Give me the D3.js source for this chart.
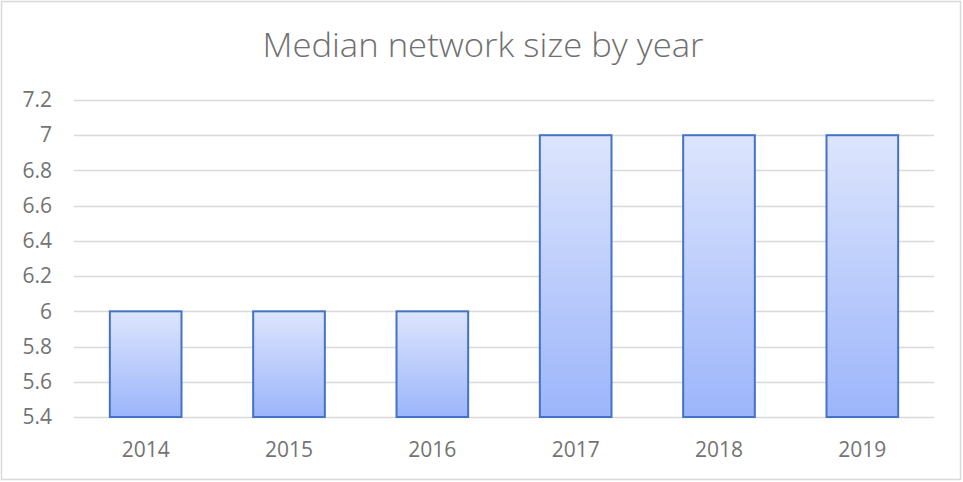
<!DOCTYPE html>
<html>
<head>
<meta charset="utf-8">
<script src="https://cdn.jsdelivr.net/npm/d3@7"></script>
<style>
  body { margin: 0; background: #fff; }
  text { font-family: "Open Sans", "Noto Sans", sans-serif; fill: #595959; }
</style>
</head>
<body>
<svg id="chart"></svg>
<script>
// Chart data
const years = ["2014", "2015", "2016", "2017", "2018", "2019"];
const medianSize = [6, 6, 6, 7, 7, 7];
const yTicks = [5.4, 5.6, 5.8, 6, 6.2, 6.4, 6.6, 6.8, 7, 7.2];

const width = 963, height = 482;
const margin = {top: 100, bottom: 65, left: 74, right: 29};

const svg = d3.select("#chart")
  .attr("width", width)
  .attr("height", height);

// gradient for bars
const defs = svg.append("defs");
const grad = defs.append("linearGradient")
  .attr("id", "barGrad")
  .attr("x1", 0).attr("y1", 0).attr("x2", 0).attr("y2", 1);
grad.append("stop").attr("offset", "0%").attr("stop-color", "#dde5fd");
grad.append("stop").attr("offset", "100%").attr("stop-color", "#9cb5fb");

// outer frame
svg.append("rect")
  .attr("x", 1.5).attr("y", 1.5)
  .attr("width", width - 4).attr("height", height - 4)
  .attr("fill", "#fff")
  .attr("stroke", "#d9d9d9")
  .attr("stroke-width", 1.5);

// title
svg.append("text")
  .attr("x", 483)
  .attr("y", 57)
  .attr("text-anchor", "middle")
  .attr("font-size", 33)
  .attr("font-weight", 300)
  .style("fill", "#6f6f6f")
  .attr("textLength", 441)
  .attr("lengthAdjust", "spacingAndGlyphs")
  .text("Median network size by year");

const xScale = d3.scaleBand()
  .domain(years)
  .range([margin.left, width - margin.right])
  .paddingInner(0.5)
  .paddingOuter(0.25);

const yScale = d3.scaleLinear()
  .domain([5.4, 7.2])
  .range([417, 100]);

// gridlines
svg.append("g")
  .selectAll("line")
  .data(yTicks)
  .enter()
  .append("line")
  .attr("x1", margin.left)
  .attr("x2", width - margin.right)
  .attr("y1", (d) => Math.round(yScale(d)) + 0.5)
  .attr("y2", (d) => Math.round(yScale(d)) + 0.5)
  .attr("stroke", "#d9d9d9")
  .attr("stroke-width", 1.5);

// y axis labels
const yAxis = svg.append("g")
  .attr("transform", `translate(${margin.left - 22}, 0)`)
  .call(d3.axisLeft(yScale).tickValues(yTicks).tickSize(0).tickPadding(0).tickFormat((d) => d3.format("")(+d.toFixed(1))));
yAxis.select(".domain").remove();
yAxis.selectAll("text")
  .attr("font-size", 21)
  .style("fill", "#737373")
  .attr("font-family", "'Open Sans', sans-serif");

// bars
svg.append("g")
  .selectAll("rect")
  .data(years)
  .enter()
  .append("rect")
  .attr("x", (d) => xScale(d))
  .attr("y", (d, i) => yScale(medianSize[i]))
  .attr("width", xScale.bandwidth())
  .attr("height", (d, i) => yScale(5.4) - yScale(medianSize[i]))
  .attr("fill", "url(#barGrad)")
  .attr("stroke", "#4472c4")
  .attr("stroke-width", 2);

// x axis labels
const xAxis = svg.append("g")
  .attr("transform", `translate(0, 438)`)
  .call(d3.axisBottom(xScale).tickSize(0).tickPadding(0));
xAxis.select(".domain").remove();
xAxis.selectAll("text")
  .attr("dy", null)
  .attr("y", 19)
  .attr("font-size", 21)
  .style("fill", "#737373")
  .attr("font-family", "'Open Sans', sans-serif");
</script>
</body>
</html>
